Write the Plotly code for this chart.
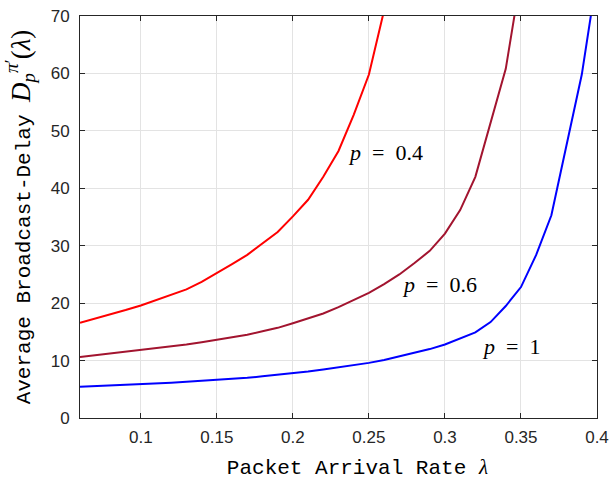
import plotly.graph_objects as go

# Packet arrival rate (lambda) samples
lam_p1 = [0.06, 0.07, 0.08, 0.09, 0.10, 0.11, 0.12, 0.13, 0.14, 0.15, 0.16, 0.17,
          0.18, 0.19, 0.20, 0.21, 0.22, 0.23, 0.24, 0.25, 0.26, 0.27, 0.28, 0.29,
          0.30, 0.31, 0.32, 0.33, 0.34, 0.35, 0.36, 0.37, 0.38, 0.39, 0.40]
lam_p06 = [0.06, 0.07, 0.08, 0.09, 0.10, 0.11, 0.12, 0.13, 0.14, 0.15, 0.16, 0.17,
           0.18, 0.19, 0.20, 0.21, 0.22, 0.23, 0.24, 0.25, 0.26, 0.27, 0.28, 0.29,
           0.30, 0.31, 0.32, 0.33, 0.34, 0.35]
lam_p04 = [0.06, 0.07, 0.08, 0.09, 0.10, 0.11, 0.12, 0.13, 0.14, 0.15, 0.16, 0.17,
           0.18, 0.19, 0.20, 0.21, 0.22, 0.23, 0.24, 0.25, 0.26]

# Average broadcast delay values
delay_p1 = [5.45, 5.55, 5.65, 5.75, 5.9, 6.0, 6.15, 6.3, 6.45, 6.6, 6.8, 7.0,
            7.25, 7.5, 7.8, 8.1, 8.45, 8.8, 9.2, 9.6, 10.1, 10.7, 11.3, 12.0,
            12.8, 13.8, 14.9, 16.7, 19.5, 22.8, 28.4, 35.3, 47.3, 59.8, 77.0]
delay_p06 = [10.6, 10.9, 11.2, 11.5, 11.8, 12.1, 12.45, 12.8, 13.2, 13.6, 14.0, 14.5,
             15.1, 15.7, 16.5, 17.3, 18.2, 19.3, 20.5, 21.8, 23.3, 25.0, 27.0, 29.1,
             32.1, 36.2, 42.0, 51.5, 60.8, 77.0]
delay_p04 = [16.6, 17.3, 18.0, 18.8, 19.6, 20.5, 21.4, 22.4, 23.7, 25.2, 26.8, 28.4,
             30.4, 32.4, 35.1, 38.0, 42.0, 46.5, 52.8, 59.8, 71.0]

x_ticks = [0.1, 0.15, 0.2, 0.25, 0.3, 0.35, 0.4]
x_tick_labels = ["0.1", "0.15", "0.2", "0.25", "0.3", "0.35", "0.4"]
y_ticks = [0, 10, 20, 30, 40, 50, 60, 70]
y_tick_labels = ["0", "10", "20", "30", "40", "50", "60", "70"]

labels = ["<i>p</i>&#8194;=&#8194;0.4", "<i>p</i>&#8194;=&#8194;0.6", "<i>p</i>&#8194;=&#8194;1"]
label_x = [0.235, 0.2706, 0.3232]
label_y = [46.3, 23.2, 12.4]

fig = go.Figure()
fig.add_trace(go.Scatter(x=lam_p04, y=delay_p04, mode="lines",
                         line=dict(color="#FF0000", width=2), showlegend=False))
fig.add_trace(go.Scatter(x=lam_p06, y=delay_p06, mode="lines",
                         line=dict(color="#A2142F", width=2), showlegend=False))
fig.add_trace(go.Scatter(x=lam_p1, y=delay_p1, mode="lines",
                         line=dict(color="#0000FF", width=2), showlegend=False))

for t, xx, yy in zip(labels, label_x, label_y):
    fig.add_annotation(x=xx, y=yy, text=t, showarrow=False, xanchor="left",
                       yanchor="middle",
                       font=dict(family="Liberation Serif, serif", size=22, color="#000000"))

axis_common = dict(
    showline=True, linecolor="#262626", linewidth=1, mirror="ticks",
    ticks="inside", ticklen=5, tickcolor="#262626", tickwidth=1,
    showgrid=True, gridcolor="#E3E3E3", gridwidth=1, zeroline=False,
    automargin=False,
    tickfont=dict(family="Liberation Sans, Arial, sans-serif", size=17, color="#262626"),
)

fig.update_xaxes(
    range=[0.06, 0.4], tickvals=x_ticks, ticktext=x_tick_labels,
    title=dict(text="&nbsp;&nbsp;&nbsp;Packet Arrival Rate <span style=\"font-family:Liberation Serif\"><i>λ</i></span>",
               font=dict(family="Liberation Mono, monospace", size=21, color="#000000"),
               standoff=14),
    ticklabelstandoff=4,
    **axis_common,
)
fig.update_yaxes(
    range=[0, 70], tickvals=y_ticks, ticktext=y_tick_labels,
    title=dict(text="Average Broadcast-Delay <span style=\"font-family:Liberation Serif;font-size:27px\"><i>D</i><sub><i>p</i></sub><sup><i>π</i>′</sup>(<i>λ</i>)</span>",
               font=dict(family="Liberation Mono, monospace", size=21, color="#000000"),
               standoff=14),
    ticklabelstandoff=6,
    **axis_common,
)

fig.update_layout(
    width=609, height=480,
    margin=dict(l=80, r=12, t=16, b=62),
    plot_bgcolor="#FFFFFF", paper_bgcolor="#FFFFFF",
)

fig.write_html("out.html", config={"displayModeBar": False},
               post_script="document.body.style.margin='0';document.body.style.overflow='hidden';")
